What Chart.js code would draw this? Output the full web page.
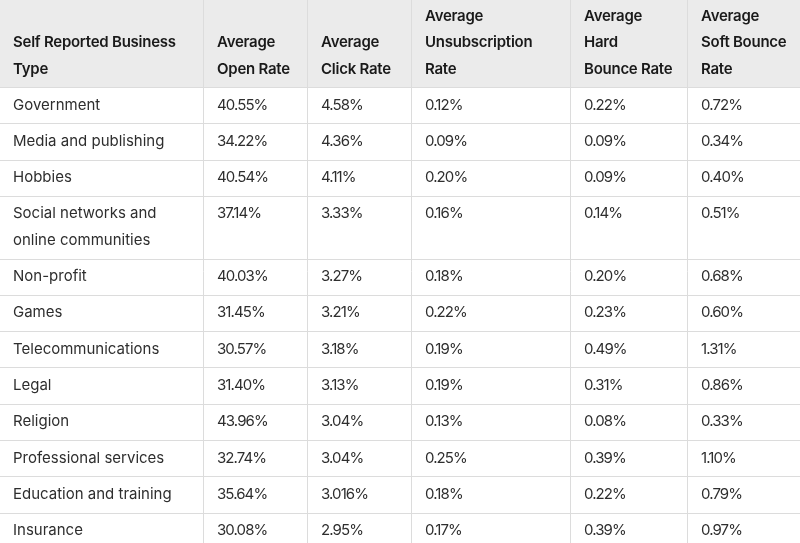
<!DOCTYPE html>
<html>
<head>
<meta charset="utf-8">
<script src="https://cdn.jsdelivr.net/npm/chart.js@4"></script>
<style>
  html, body { margin: 0; padding: 0; background: #fff; }
  #wrap { width: 800px; height: 543px; }
</style>
</head>
<body>
<div id="wrap"><canvas id="myChart"></canvas></div>
<script>
// ---------------- table data
var headers = [
  ['Self Reported Business', 'Type'],
  ['Average', 'Open Rate'],
  ['Average', 'Click Rate'],
  ['Average', 'Unsubscription', 'Rate'],
  ['Average', 'Hard', 'Bounce Rate'],
  ['Average', 'Soft Bounce', 'Rate']
];
var business_types = [
  ['Government'],
  ['Media and publishing'],
  ['Hobbies'],
  ['Social networks and', 'online communities'],
  ['Non-profit'],
  ['Games'],
  ['Telecommunications'],
  ['Legal'],
  ['Religion'],
  ['Professional services'],
  ['Education and training'],
  ['Insurance']
];
var open_rate    = [40.55, 34.22, 40.54, 37.14, 40.03, 31.45, 30.57, 31.40, 43.96, 32.74, 35.64, 30.08];
var click_rate   = [4.58, 4.36, 4.11, 3.33, 3.27, 3.21, 3.18, 3.13, 3.04, 3.04, 3.016, 2.95];
var unsub_rate   = [0.12, 0.09, 0.20, 0.16, 0.18, 0.22, 0.19, 0.19, 0.13, 0.25, 0.18, 0.17];
var hard_bounce  = [0.22, 0.09, 0.09, 0.14, 0.20, 0.23, 0.49, 0.31, 0.08, 0.39, 0.22, 0.39];
var soft_bounce  = [0.72, 0.34, 0.40, 0.51, 0.68, 0.60, 1.31, 0.86, 0.33, 1.10, 0.79, 0.97];

var series = [open_rate, click_rate, unsub_rate, hard_bounce, soft_bounce];

// ---------------- layout (px units of the scales)
var col_edges = [0, 203, 307, 411, 570, 687, 800];
var header_h = 87;
var row_h = 36.3;
var line_h = 26.3;

function fmt(v) {
  var s = String(v);
  var dec = s.indexOf('.') >= 0 ? s.split('.')[1].length : 0;
  return v.toFixed(Math.max(2, dec)) + '%';
}

// row boundaries from line counts
var row_tops = [];
var y = header_h;
for (var i = 0; i < business_types.length; i++) {
  row_tops.push(y);
  y += row_h + (business_types[i].length - 1) * line_h;
}
row_tops.push(y);

const tablePlugin = {
  id: 'tablePlugin',
  beforeDatasetsDraw(chart) {
    const ctx = chart.ctx;
    const xs = chart.scales.x;
    const ys = chart.scales.y;
    const px = v => xs.getPixelForValue(v);
    const py = v => ys.getPixelForValue(v);
    ctx.save();

    // header background
    ctx.fillStyle = '#ebebeb';
    ctx.fillRect(px(0), py(0), px(800) - px(0), py(header_h) - py(0));

    // grid lines
    ctx.strokeStyle = '#dcdcdc';
    ctx.lineWidth = 1;
    ctx.beginPath();
    for (var c = 1; c < col_edges.length - 1; c++) {
      var xx = Math.round(px(col_edges[c])) + 0.5;
      ctx.moveTo(xx, py(0));
      ctx.lineTo(xx, py(543));
    }
    for (var r = 0; r < row_tops.length; r++) {
      var yy = Math.round(py(row_tops[r])) + 0.5;
      ctx.moveTo(px(0), yy);
      ctx.lineTo(px(800), yy);
    }
    ctx.stroke();

    ctx.textBaseline = 'middle';
    ctx.textAlign = 'left';

    // headers, bottom aligned
    ctx.fillStyle = '#1a1a1a';
    ctx.font = '600 15px Inter, "Noto Sans", sans-serif';
    ctx.letterSpacing = '-0.25px';
    headers.forEach(function (lines, c) {
      var pad = c === 0 ? 13 : 14;
      lines.forEach(function (t, k) {
        var ly = header_h - 18 - (lines.length - 1 - k) * line_h;
        ctx.fillText(t, px(col_edges[c] + pad), py(ly));
      });
    });

    // body
    ctx.fillStyle = '#2e2e2e';
    ctx.font = '400 15px Inter, "Noto Sans", sans-serif';
    business_types.forEach(function (lines, r) {
      ctx.letterSpacing = '0px';
      lines.forEach(function (t, k) {
        ctx.fillText(t, px(13), py(row_tops[r] + 18 + k * line_h));
      });
      ctx.letterSpacing = '-0.9px';
      series.forEach(function (s, c) {
        ctx.fillText(fmt(s[r]), px(col_edges[c + 1] + 14), py(row_tops[r] + 18));
      });
    });
    ctx.restore();
  }
};

const config = {
  type: 'scatter',
  data: { datasets: [{ data: [] }] },
  options: {
    responsive: true,
    maintainAspectRatio: false,
    animation: false,
    layout: { padding: 0 },
    plugins: { legend: { display: false }, tooltip: { enabled: false } },
    scales: {
      x: { type: 'linear', min: 0, max: 800, display: false },
      y: { type: 'linear', min: 0, max: 543, reverse: true, display: false }
    }
  },
  plugins: [tablePlugin]
};

const myChart = new Chart(document.getElementById('myChart'), config);
</script>
</body>
</html>
